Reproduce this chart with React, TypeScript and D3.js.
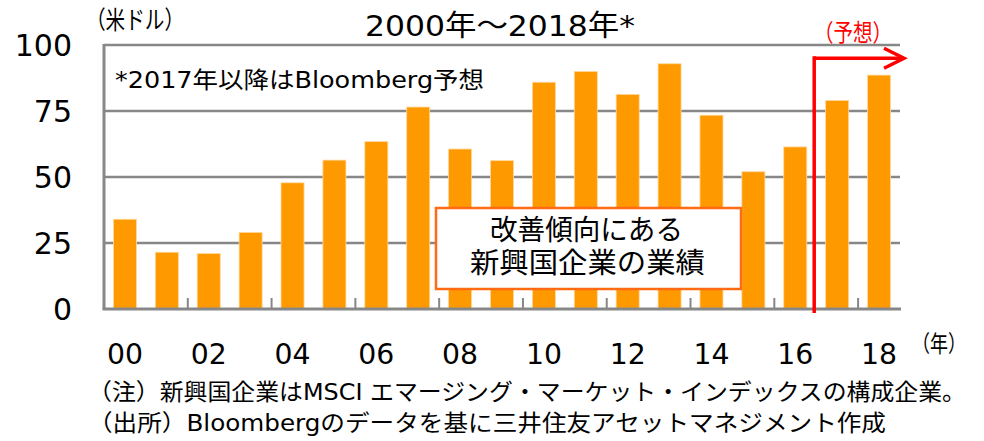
import React from "react";
import * as d3 from "d3";

// 新興国企業の1株当たり利益（米ドル）
const years = ["00", "01", "02", "03", "04", "05", "06", "07", "08", "09", "10", "11", "12", "13", "14", "15", "16", "17", "18"];
const values = [34, 21.5, 21, 29, 47.8, 56.4, 63.4, 76.5, 60.6, 56.2, 85.9, 90, 81.3, 92.9, 73.4, 52, 61.4, 79, 88.6];
const yTicks = [0, 25, 50, 75, 100];
const forecastFrom = "17";

const W = 984;
const H = 441;
const m = { left: 104, right: 900, top: 45, bottom: 309 };

const jp = "'DejaVu Sans', 'Noto Sans CJK JP', sans-serif";
const grid = "#878787";

const App: React.FC = () => {
  const x = d3
    .scaleBand<string>()
    .domain(years)
    .range([m.left, m.right])
    .paddingInner(0.45)
    .paddingOuter(0.225);
  const y = d3.scaleLinear().domain([0, 100]).range([m.bottom, m.top]);

  const step = x.step();
  const boundary = (d: string) => (x(d) as number) - (step * x.paddingInner()) / 2;

  const fx = boundary(forecastFrom) - 2;
  const fy = y(95);
  const tip = m.right + 4;

  return (
    <svg
      width={W}
      height={H}
      style={{ position: "absolute", left: 0, top: 0, background: "#fff" }}
      fontFamily={jp}
    >
      {/* title & units */}
      <text x={365} y={36} fontSize={29} fill="#000" textLength={270} lengthAdjust="spacingAndGlyphs">
        2000年～2018年*
      </text>
      <text x={86} y={29} fontSize={25} fill="#000" textLength={98} lengthAdjust="spacingAndGlyphs">
        （米ドル）
      </text>

      {/* gridlines */}
      {yTicks
        .filter((t) => t > 0)
        .map((t) => (
          <line key={t} x1={m.left} x2={m.right} y1={y(t)} y2={y(t)} stroke={grid} strokeWidth={2.5} />
        ))}

      {/* y labels */}
      {yTicks.map((t) => (
        <text key={t} x={72} y={y(t)} dy="0.36em" fontSize={30} textAnchor="end" fill="#000">
          {t}
        </text>
      ))}

      {/* bars */}
      {years.map((d, i) => (
        <rect
          key={d}
          x={x(d)}
          y={y(values[i])}
          width={x.bandwidth()}
          height={y(0) - y(values[i])}
          fill="#FF9900"
          stroke="#FFD9A0"
          strokeWidth={0.8}
        />
      ))}

      {/* axes */}
      <line x1={m.left} x2={m.left} y1={m.top - 1} y2={m.bottom} stroke={grid} strokeWidth={3} />
      <line x1={m.left - 1.5} x2={m.right + 1} y1={m.bottom} y2={m.bottom} stroke={grid} strokeWidth={3} />
      {years
        .filter((_, i) => i > 0 && i % 2 === 0)
        .map((d) => (
          <line key={d} x1={boundary(d)} x2={boundary(d)} y1={m.bottom - 11} y2={m.bottom} stroke={grid} strokeWidth={2} />
        ))}

      {/* x labels */}
      {years
        .filter((_, i) => i % 2 === 0)
        .map((d) => {
          const cx = (x(d) as number) + x.bandwidth() / 2;
          return (
            <text
              key={d}
              x={cx - 18}
              y={364}
              fontSize={29}
              fill="#000"
              textLength={36}
              lengthAdjust="spacingAndGlyphs"
            >
              {d}
            </text>
          );
        })}
      <text x={912} y={352} fontSize={23} fill="#000" textLength={54} lengthAdjust="spacingAndGlyphs">
        （年）
      </text>

      {/* note */}
      <text x={115} y={88} fontSize={23} fill="#000" textLength={369} lengthAdjust="spacingAndGlyphs">
        *2017年以降はBloomberg予想
      </text>

      {/* forecast marker */}
      <g stroke="#FF0000" strokeWidth={3.5} fill="none">
        <line x1={fx} x2={fx} y1={fy - 2} y2={m.bottom + 4} />
        <line x1={fx} x2={tip} y1={fy} y2={fy} />
        <polyline points={`${tip - 20},${fy - 10} ${tip},${fy} ${tip - 20},${fy + 10}`} strokeLinejoin="miter" />
      </g>
      <text x={814} y={41} fontSize={24} fill="#FF0000" textLength={78} lengthAdjust="spacingAndGlyphs">
        （予想）
      </text>

      {/* callout box */}
      <rect x={436} y={208} width={305} height={81} fill="#fff" stroke="#FF6A13" strokeWidth={2.5} />
      <text x={490} y={240} fontSize={28} fill="#000" textLength={193} lengthAdjust="spacingAndGlyphs">
        改善傾向にある
      </text>
      <text x={470} y={273} fontSize={28} fill="#000" textLength={235} lengthAdjust="spacingAndGlyphs">
        新興国企業の業績
      </text>

      {/* footnotes */}
      <text x={88} y={400} fontSize={23} fill="#000" textLength={878} lengthAdjust="spacingAndGlyphs">
        （注）新興国企業はMSCI エマージング・マーケット・インデックスの構成企業。
      </text>
      <text x={88} y={431} fontSize={23} fill="#000" textLength={798} lengthAdjust="spacingAndGlyphs">
        （出所）Bloombergのデータを基に三井住友アセットマネジメント作成
      </text>
    </svg>
  );
};

export default App;
